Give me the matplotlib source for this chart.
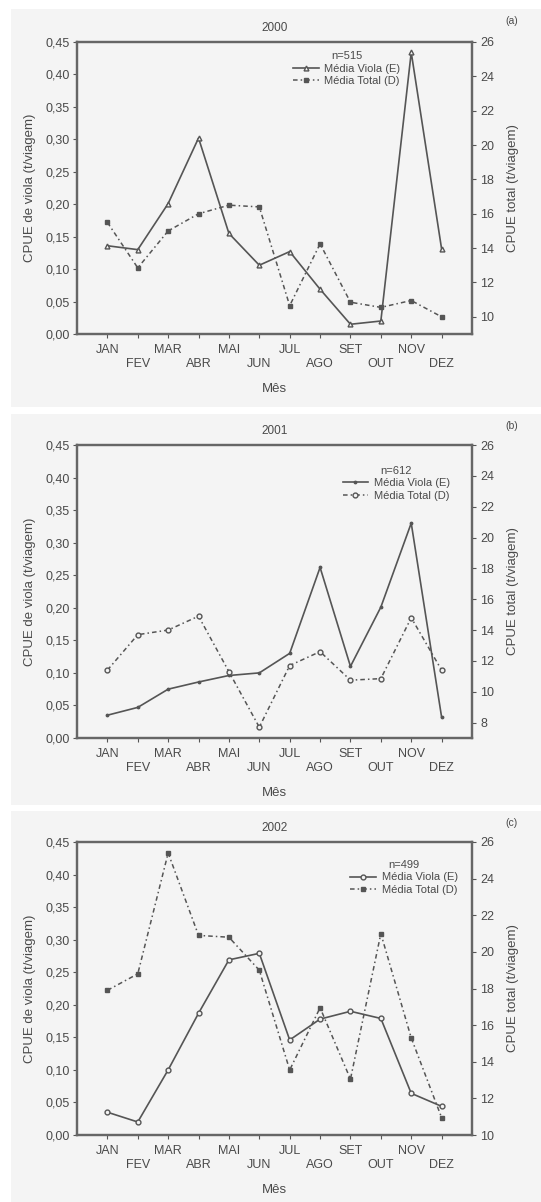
import matplotlib
matplotlib.use("Agg")
import matplotlib.pyplot as plt
from matplotlib.patches import Rectangle

plt.rcParams['font.family'] = ['Liberation Sans', 'DejaVu Sans']

months = ["JAN", "FEV", "MAR", "ABR", "MAI", "JUN", "JUL", "AGO", "SET", "OUT", "NOV", "DEZ"]
x = list(range(1, 13))

years = ["2000", "2001", "2002"]
tags = ["(a)", "(b)", "(c)"]
n_labels = ["n=515", "n=612", "n=499"]

viola_2000 = [0.136, 0.130, 0.201, 0.302, 0.155, 0.106, 0.127, 0.069, 0.015, 0.020, 0.434, 0.131]
total_2000 = [15.5, 12.85, 15.0, 16.0, 16.5, 16.4, 10.65, 14.25, 10.85, 10.55, 10.95, 10.0]

viola_2001 = [0.035, 0.047, 0.075, 0.086, 0.096, 0.100, 0.130, 0.262, 0.110, 0.201, 0.330, 0.032]
total_2001 = [11.4, 13.7, 14.0, 14.9, 11.3, 7.7, 11.7, 12.6, 10.75, 10.85, 14.8, 11.4]

viola_2002 = [0.035, 0.020, 0.100, 0.187, 0.269, 0.279, 0.146, 0.178, 0.190, 0.179, 0.064, 0.044]
total_2002 = [17.9, 18.8, 25.4, 20.9, 20.8, 19.0, 13.55, 16.95, 13.05, 21.0, 15.3, 10.95]

viola_all = [viola_2000, viola_2001, viola_2002]
total_all = [total_2000, total_2001, total_2002]

left_ticks = [0.00, 0.05, 0.10, 0.15, 0.20, 0.25, 0.30, 0.35, 0.40, 0.45]
right_ticks_all = [list(range(10, 27, 2)), list(range(8, 27, 2)), list(range(10, 27, 2))]
right_lims = [(9, 26), (7, 26), (10, 26)]

W, H = 541, 1202
fig = plt.figure(figsize=(W / 100, H / 100), dpi=100)
fig.patch.set_facecolor("white")

BG = "#f4f4f4"
LC = "#555555"
TC = "#4a4a4a"

panels = [(9, 407), (414, 805), (811, 1202)]
axes_px = [(42, 334), (445, 738), (842, 1135)]
ax_left, ax_right = 77, 472
leg_anchor = [(0.83, 0.985), (0.955, 0.945), (0.975, 0.955)]
viola_mk = ["^", ".", "o"]
total_mk = ["s", "o", "s"]
total_fill = [LC, BG, LC]
viola_fill = [BG, LC, BG]

for i in range(3):
    pt, pb = panels[i]
    fig.patches.append(Rectangle((11 / W, 1 - pb / H), (W - 11) / W, (pb - pt) / H,
                                 transform=fig.transFigure, facecolor=BG, edgecolor="none", zorder=-5))
    top, bot = axes_px[i]
    ax = fig.add_axes([ax_left / W, 1 - bot / H, (ax_right - ax_left) / W, (bot - top) / H])
    ax.set_facecolor(BG)
    ax2 = ax.twinx()

    l1, = ax.plot(x, viola_all[i], color=LC, lw=1.2, ls="-", marker=viola_mk[i], ms=3.5,
                  mfc=viola_fill[i], mec=LC, label="Média Viola (E)")
    l2, = ax2.plot(x, total_all[i], color=LC, lw=1.1, ls=(0, (3, 2, 1, 2)), marker=total_mk[i], ms=3.5,
                   mfc=total_fill[i], mec=LC, label="Média Total (D)")

    ax.set_xlim(0, 13)
    ax.set_ylim(0, 0.45)
    ax.set_yticks(left_ticks)
    ax.set_yticklabels([f"{v:.2f}".replace(".", ",") for v in left_ticks])
    ax2.set_ylim(*right_lims[i])
    ax2.set_yticks(right_ticks_all[i])
    ax2.set_yticklabels([str(v) for v in right_ticks_all[i]])

    ax.set_xticks(x)
    ax.set_xticklabels([m if k % 2 == 0 else "\n" + m for k, m in enumerate(months)])
    ax.tick_params(axis="x", direction="out", length=3, color=LC, labelcolor=TC, labelsize=9, pad=4)
    ax.tick_params(axis="y", direction="out", length=3, color=LC, labelcolor=TC, labelsize=9, pad=2)
    ax2.tick_params(axis="y", direction="out", length=3, color=LC, labelcolor=TC, labelsize=9, pad=3)
    ax2.tick_params(axis="x", top=True, bottom=False, direction="in", length=3, color=LC, labeltop=False)

    for a in (ax, ax2):
        for s in a.spines.values():
            s.set_color("#666666")
            s.set_linewidth(1.6)

    ax.set_xlabel("Mês", color=TC, fontsize=9.5, labelpad=10)
    ax.set_ylabel("CPUE de viola (t/viagem)", color=TC, fontsize=9.5, labelpad=7)
    ax2.set_ylabel("CPUE total (t/viagem)", color=TC, fontsize=9.5, labelpad=9, rotation=90)
    ax.set_title(years[i], color=TC, fontsize=8.5, pad=8)
    fig.text(512 / W, 1 - (pt + 12) / H, tags[i], color=TC, fontsize=7.5, ha="center", va="center")

    leg = ax2.legend(handles=[l1, l2], title=n_labels[i], loc="upper right",
                     bbox_to_anchor=leg_anchor[i], frameon=False, fontsize=8, title_fontsize=8,
                     handlelength=2.3, handletextpad=0.5, borderaxespad=0, labelspacing=0.25)
    for t in leg.get_texts():
        t.set_color(TC)
    leg.get_title().set_color(TC)

fig.savefig("out.png", dpi=100, facecolor="white")
